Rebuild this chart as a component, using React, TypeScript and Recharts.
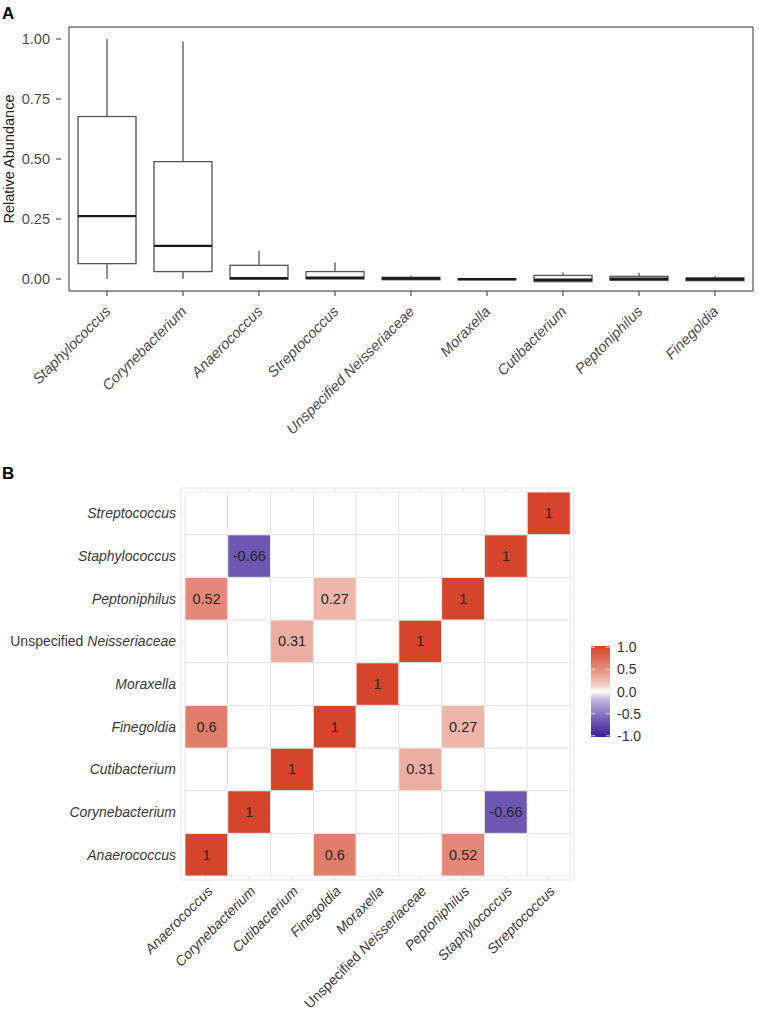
import React from 'react';
import { BarChart, Bar, XAxis, YAxis, ReferenceArea, CartesianGrid } from 'recharts';

const FONT = '"Liberation Sans", Arial, Helvetica, sans-serif';

// Panel A - relative abundance per genus (box plot stats)
const genera = [
  'Staphylococcus',
  'Corynebacterium',
  'Anaerococcus',
  'Streptococcus',
  'Unspecified Neisseriaceae',
  'Moraxella',
  'Cutibacterium',
  'Peptoniphilus',
  'Finegoldia',
];
const whiskerLow = [0, 0, 0, 0, -0.003, -0.002, -0.011, -0.006, -0.007];
const lowerQuartile = [0.064, 0.031, 0, 0, -0.003, -0.002, -0.011, -0.006, -0.007];
const medians = [0.262, 0.138, 0.003, 0.005, 0.002, -0.001, -0.003, 0.001, -0.001];
const upperQuartile = [0.677, 0.489, 0.057, 0.031, 0.007, 0, 0.015, 0.011, 0.005];
const whiskerHigh = [1.0, 0.99, 0.118, 0.069, 0.015, 0.001, 0.027, 0.026, 0.012];
const abundanceTicks = [0, 0.25, 0.5, 0.75, 1];

// Panel B - significant correlations only (null = not shown)
const taxa = [
  'Anaerococcus',
  'Corynebacterium',
  'Cutibacterium',
  'Finegoldia',
  'Moraxella',
  'Unspecified Neisseriaceae',
  'Peptoniphilus',
  'Staphylococcus',
  'Streptococcus',
];
const corrAnaerococcus = [1, null, null, 0.6, null, null, 0.52, null, null];
const corrCorynebacterium = [null, 1, null, null, null, null, null, -0.66, null];
const corrCutibacterium = [null, null, 1, null, null, 0.31, null, null, null];
const corrFinegoldia = [0.6, null, null, 1, null, null, 0.27, null, null];
const corrMoraxella = [null, null, null, null, 1, null, null, null, null];
const corrNeisseriaceae = [null, null, 0.31, null, null, 1, null, null, null];
const corrPeptoniphilus = [0.52, null, null, 0.27, null, null, 1, null, null];
const corrStaphylococcus = [null, -0.66, null, null, null, null, null, 1, null];
const corrStreptococcus = [null, null, null, null, null, null, null, null, 1];
const corrRows = [
  corrAnaerococcus,
  corrCorynebacterium,
  corrCutibacterium,
  corrFinegoldia,
  corrMoraxella,
  corrNeisseriaceae,
  corrPeptoniphilus,
  corrStaphylococcus,
  corrStreptococcus,
];
const legendTicks = [1, 0.5, 0, -0.5, -1];

const HIGH = [212, 69, 43];
const LOW = [58, 32, 150];

function corrColor(v: number) {
  const t = Math.pow(Math.min(Math.abs(v), 1), 0.7);
  const c = v >= 0 ? HIGH : LOW;
  const mix = c.map((k) => Math.round(255 + (k - 255) * t));
  return `rgb(${mix[0]},${mix[1]},${mix[2]})`;
}

const boxData = genera.map((g, i) => ({
  genus: g,
  span: [whiskerLow[i], whiskerHigh[i]],
  q1: lowerQuartile[i],
  median: medians[i],
  q3: upperQuartile[i],
}));

// one unit-high slot per row, stacked to make the grid
const heatData = taxa.map((col) => {
  const d: any = { taxon: col };
  taxa.forEach((_, i) => {
    d[`r${i}`] = 1;
  });
  return d;
});

const BoxShape = (props: any) => {
  const { x, y, width, height, payload } = props;
  const top = Math.min(y, y + height);
  const bottom = Math.max(y, y + height);
  const [lo, hi] = payload.span;
  const px = (v: number) => (hi === lo ? bottom : top + ((hi - v) / (hi - lo)) * (bottom - top));
  const cx = x + width / 2;
  const yq3 = px(payload.q3);
  const yq1 = px(payload.q1);
  return (
    <g>
      <line x1={cx} x2={cx} y1={px(hi)} y2={px(lo)} stroke="#555" strokeWidth={1.3} />
      <rect x={x} y={yq3} width={width} height={Math.max(yq1 - yq3, 0)} fill="#fff" stroke="#555" strokeWidth={1.3} />
      <line x1={x} x2={x + width} y1={px(payload.median)} y2={px(payload.median)} stroke="#1a1a1a" strokeWidth={2.4} />
    </g>
  );
};

const taxonLabel = (name: string) => {
  if (name.startsWith('Unspecified ')) {
    return [
      <tspan key="u" fontStyle="normal">Unspecified </tspan>,
      <tspan key="n" fontStyle="italic">{name.replace('Unspecified ', '')}</tspan>,
    ];
  }
  return <tspan fontStyle="italic">{name}</tspan>;
};

const GenusTick = (p: any) => (
  <text
    transform={`translate(${p.x - 3},${p.y + 7}) rotate(-45)`}
    textAnchor="end"
    dy="0.71em"
    fontSize={14.7}
    fontStyle="italic"
    fill="#4d4d4d"
    fontFamily={FONT}
  >
    {p.payload.value}
  </text>
);

const HeatColTick = (p: any) => (
  <text
    transform={`translate(${p.x},${p.y + 3}) rotate(-45)`}
    textAnchor="end"
    dy="0.71em"
    fontSize={14}
    fill="#3a3a3a"
    fontFamily={FONT}
  >
    {taxonLabel(p.payload.value)}
  </text>
);

const HeatRowTick = (p: any) => {
  const name = taxa[Math.round(p.payload.value - 0.5)];
  return (
    <text x={p.x} y={p.y} dy="0.35em" textAnchor="end" fontSize={14} fill="#3a3a3a" fontFamily={FONT}>
      {taxonLabel(name)}
    </text>
  );
};

const makeTile = (row: number) => (p: any) => {
  const col = taxa.indexOf(p.payload.taxon);
  const v = corrRows[row][col];
  const top = Math.min(p.y, p.y + p.height);
  const h = Math.abs(p.height);
  return (
    <g>
      <rect x={p.x} y={top} width={p.width} height={h} fill={v == null ? '#fff' : corrColor(v)} stroke="#e6e6e6" strokeWidth={1} />
      {v != null && (
        <text x={p.x + p.width / 2} y={top + h / 2} dy="0.35em" textAnchor="middle" fontSize={14.5} fill="#262626" fontFamily={FONT}>
          {String(v)}
        </text>
      )}
    </g>
  );
};

const ColorBar = () => {
  const barTop = 10;
  const barBottom = 101;
  const mid = (barTop + barBottom) / 2;
  const half = 44.3;
  const stops = [];
  for (let k = 0; k <= 20; k++) {
    const v = 1 - k / 10;
    stops.push(<stop key={k} offset={`${(k / 20) * 100}%`} stopColor={corrColor(v)} />);
  }
  return (
    <svg width={70} height={115} style={{ position: 'absolute', left: 580, top: 636 }}>
      <defs>
        <linearGradient id="corrGrad" x1="0" y1="0" x2="0" y2="1">
          {stops}
        </linearGradient>
      </defs>
      <rect x={11} y={barTop} width={19} height={barBottom - barTop} fill="url(#corrGrad)" />
      {legendTicks.map((t) => (
        <g key={t}>
          <line x1={11} x2={15} y1={mid - t * half} y2={mid - t * half} stroke="#fff" strokeWidth={0.8} />
          <line x1={26} x2={30} y1={mid - t * half} y2={mid - t * half} stroke="#fff" strokeWidth={0.8} />
          <text x={37} y={mid - t * half} dy="0.36em" fontSize={14} fill="#333" fontFamily={FONT}>
            {t.toFixed(1)}
          </text>
        </g>
      ))}
    </svg>
  );
};

export default function App() {
  return (
    <div style={{ position: 'absolute', left: 0, top: 0, width: 762, height: 1017, background: '#fff', fontFamily: FONT }}>
      <div style={{ position: 'absolute', left: 0, top: 0 }}>
        <BarChart width={762} height={460} data={boxData} margin={{ top: 27, right: 1, bottom: 0, left: 0 }} barSize={58}>
          <XAxis
            dataKey="genus"
            interval={0}
            height={169}
            padding={{ left: 8, right: 8 }}
            axisLine={false}
            tickSize={5}
            tickMargin={2}
            tickLine={{ stroke: '#333' }}
            tick={<GenusTick />}
          />
          <YAxis
            type="number"
            domain={[-0.05, 1.05]}
            allowDataOverflow
            ticks={abundanceTicks}
            width={61}
            axisLine={false}
            tickSize={5}
            tickMargin={6}
            tickLine={{ stroke: '#333' }}
            tickFormatter={(v: number) => v.toFixed(2)}
            tick={{ fill: '#4d4d4d', fontSize: 14.5, fontFamily: FONT }}
            label={{
              value: 'Relative Abundance',
              angle: -90,
              position: 'insideLeft',
              offset: 9,
              style: { textAnchor: 'middle', fontSize: 14.5, fill: '#222', fontFamily: FONT },
            }}
          />
          <ReferenceArea y1={-0.05} y2={1.05} fill="none" stroke="#333" strokeWidth={1} ifOverflow="extendDomain" />
          <Bar dataKey="span" shape={BoxShape} isAnimationActive={false} />
        </BarChart>
      </div>

      <div style={{ position: 'absolute', left: 0, top: 460 }}>
        <BarChart
          width={762}
          height={557}
          data={heatData}
          margin={{ top: 28, right: 188, bottom: 0, left: 0 }}
          barCategoryGap={0}
          barGap={0}
        >
          <CartesianGrid stroke="#e3e3e3" />
          <XAxis
            dataKey="taxon"
            interval={0}
            height={137}
            padding={{ left: 4, right: 4 }}
            axisLine={false}
            tickLine={false}
            tickSize={0}
            tickMargin={2}
            tick={<HeatColTick />}
          />
          <YAxis
            type="number"
            domain={[-0.094, 9.094]}
            allowDataOverflow
            ticks={taxa.map((_, i) => i + 0.5)}
            width={181}
            axisLine={false}
            tickLine={false}
            tickSize={0}
            tickMargin={5}
            tick={<HeatRowTick />}
          />
          {taxa.map((name, i) => (
            <Bar key={name} dataKey={`r${i}`} stackId="grid" shape={makeTile(i)} isAnimationActive={false} />
          ))}
        </BarChart>
      </div>

      <ColorBar />

      <svg width={762} height={1017} style={{ position: 'absolute', left: 0, top: 0, pointerEvents: 'none' }}>
        <text x={2} y={19} fontSize={17} fontWeight="bold" fill="#000" fontFamily={FONT}>
          A
        </text>
        <text x={2} y={479} fontSize={17} fontWeight="bold" fill="#000" fontFamily={FONT}>
          B
        </text>
      </svg>
    </div>
  );
}
